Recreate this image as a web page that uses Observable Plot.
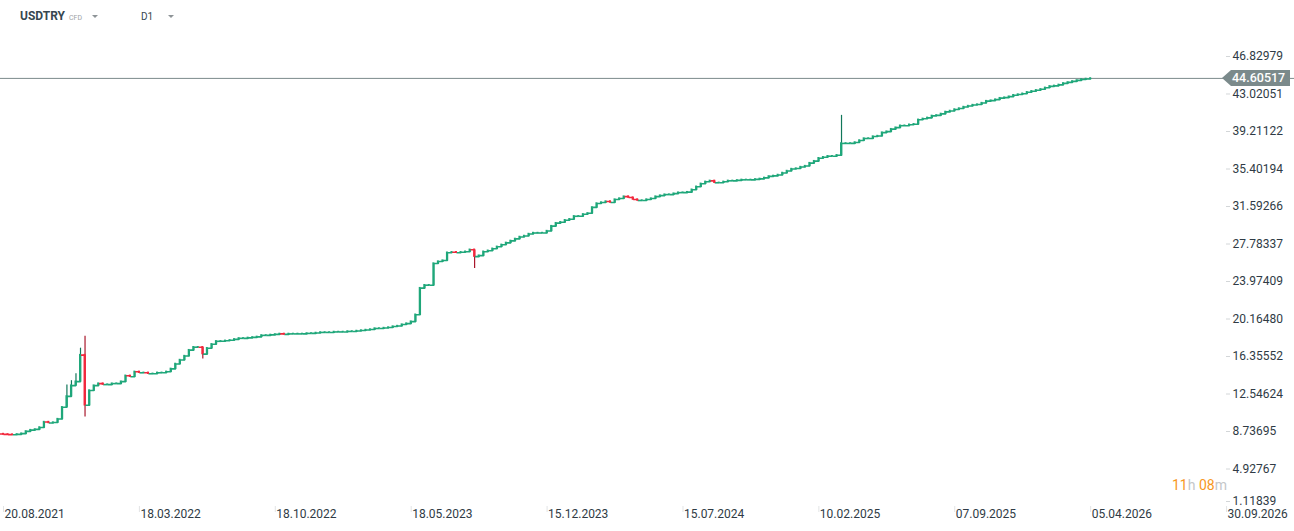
<!DOCTYPE html>
<html>
<head>
<meta charset="utf-8">
<script src="https://cdn.jsdelivr.net/npm/d3@7"></script>
<script src="https://cdn.jsdelivr.net/npm/@observablehq/plot@0.6"></script>
<style>
  html, body { margin: 0; padding: 0; background: #ffffff; overflow: hidden; }
  #wrap { position: relative; width: 1294px; height: 531px; font-family: Roboto, "Noto Sans", sans-serif; }
  #wrap svg.plot { position: absolute; left: 0; top: 0; }
  .hdr { position: absolute; color: #37474f; white-space: nowrap; }
  #sym { left: 20px; top: 9px; font-size: 12px; font-weight: 700; }
  #cfd { left: 69px; top: 14px; font-size: 7px; color: #9ea3a6; }
  #tf { left: 141px; top: 11px; font-size: 10px; }
  .caret { position: absolute; width: 0; height: 0; border-left: 3.5px solid transparent; border-right: 3.5px solid transparent; border-top: 3.5px solid #8e9497; }
  #c1 { left: 92px; top: 15px; }
  #c2 { left: 168px; top: 15px; }
  #timer { position: absolute; left: 1172px; top: 477px; font-size: 14px; white-space: nowrap; }
  #timer .o { color: #f7981d; }
  #timer .g { color: #c4c7c9; }
</style>
</head>
<body>
<div id="wrap">
  <div class="hdr" id="sym">USDTRY</div>
  <div class="hdr" id="cfd">CFD</div>
  <div class="caret" id="c1"></div>
  <div class="hdr" id="tf">D1</div>
  <div class="caret" id="c2"></div>
  <div id="timer"><span class="o">11</span><span class="g">h</span> <span class="o">08</span><span class="g">m</span></div>
</div>
<script>
// ---- data (weekly closes, one per 5 daily bars) ----
const weeklyClose = [
  8.44, 8.42, 8.40, 8.45, 8.52, 8.75, 8.88, 8.95, 9.15, 9.70,
  9.60, 9.65, 10.0, 11.2, 12.3, 13.4, 13.8, 16.5, 11.4, 12.9,
  13.4, 13.6, 13.5, 13.5, 13.6, 13.6, 13.8, 14.4, 14.3, 14.8,
  14.7, 14.7, 14.6, 14.6, 14.7, 14.7, 14.8, 15.1, 15.6, 16.0,
  16.4, 17.0, 17.3, 17.3, 16.6, 17.2, 17.6, 17.9, 17.9, 17.95,
  18.0, 18.1, 18.2, 18.2, 18.25, 18.3, 18.35, 18.5, 18.5, 18.55,
  18.6, 18.65, 18.6, 18.65, 18.65, 18.65, 18.65, 18.7, 18.7, 18.75,
  18.8, 18.8, 18.8, 18.85, 18.85, 18.85, 18.9, 18.9, 18.95, 19.0,
  19.05, 19.1, 19.2, 19.2, 19.25, 19.3, 19.4, 19.45, 19.6, 19.7,
  19.9, 20.6, 23.3, 23.6, 23.6, 25.8, 26.0, 26.1, 26.9, 26.95,
  26.9, 26.95, 27.0, 27.2, 26.5, 26.6, 27.0, 27.1, 27.3, 27.5,
  27.7, 27.9, 28.1, 28.3, 28.5, 28.6, 28.8, 28.9, 28.9, 28.9,
  29.1, 29.6, 29.9, 30.0, 30.2, 30.3, 30.6, 30.6, 30.8, 30.9,
  31.5, 31.9, 32.0, 32.1, 32.0, 32.3, 32.4, 32.6, 32.5, 32.3,
  32.2, 32.2, 32.3, 32.4, 32.6, 32.7, 32.8, 32.8, 32.9, 33.0,
  33.0, 33.05, 33.3, 33.6, 33.9, 34.1, 34.2, 34.0, 34.0, 34.1,
  34.2, 34.2, 34.25, 34.3, 34.3, 34.3, 34.35, 34.4, 34.5, 34.65,
  34.7, 34.8, 35.0, 35.2, 35.4, 35.45, 35.6, 35.7, 36.0, 36.2,
  36.5, 36.6, 36.7, 36.7, 36.8, 38.0, 38.0, 38.0, 38.1, 38.3,
  38.5, 38.5, 38.7, 38.75, 39.1, 39.2, 39.45, 39.6, 39.8, 39.8,
  39.9, 39.95, 40.4, 40.5, 40.6, 40.8, 40.85, 41.0, 41.2, 41.3,
  41.45, 41.55, 41.7, 41.8, 41.9, 41.95, 42.1, 42.3, 42.35, 42.45,
  42.6, 42.65, 42.75, 42.9, 42.97, 43.05, 43.2, 43.3, 43.4, 43.5,
  43.65, 43.8, 43.85, 43.95, 44.1, 44.2, 44.3, 44.4, 44.5, 44.55,
  44.60517
];
const firstOpen = 8.48;

// weeks with visible wicks beyond the body
const spikeWeek = [14, 15, 16, 17, 18, 44, 104, 185];
const spikeHigh = [13.45, 13.9, 14.6, 17.2, 18.4, 17.3, 27.2, 40.85];
const spikeLow  = [11.5, 12.6, 13.6, 13.8, 10.2, 16.1, 25.3, 36.7];

const lastPrice = 44.60517;
const lastPriceLabel = "44.60517";

const yTickValues = [46.82979, 43.02051, 39.21122, 35.40194, 31.59266, 27.78337, 23.97409, 20.16480, 16.35552, 12.54624, 8.73695, 4.92767, 1.11839];
const yTickLabels = ["46.82979", "43.02051", "39.21122", "35.40194", "31.59266", "27.78337", "23.97409", "20.16480", "16.35552", "12.54624", "8.73695", "4.92767", "1.11839"];

const xTickLabels = ["20.08.2021", "18.03.2022", "18.10.2022", "18.05.2023", "15.12.2023", "15.07.2024", "10.02.2025", "07.09.2025", "05.04.2026", "30.09.2026"];
const barsPerWeek = 5;
const barsPerLabel = 150;

// ---- build candle table ----
const candles = weeklyClose.map((c, w) => {
  const open = w === 0 ? firstOpen : weeklyClose[w - 1];
  const k = spikeWeek.indexOf(w);
  const high = Math.max(open, c, k >= 0 ? spikeHigh[k] : -Infinity);
  const low = Math.min(open, c, k >= 0 ? spikeLow[k] : Infinity);
  return {bar: w * barsPerWeek, prevBar: (w - 1) * barsPerWeek, open, close: c, high, low, up: c >= open, wick: k >= 0};
});
const xTickBars = xTickLabels.map((_, i) => i * barsPerLabel);
const xLabelMap = new Map(xTickBars.map((b, i) => [b, xTickLabels[i]]));
const yLabelMap = new Map(yTickValues.map((v, i) => [v, yTickLabels[i]]));

const GREEN = "#1fa77a", GREEN_D = "#11775a", RED = "#f2283d", RED_D = "#a9172c";
const AXIS_TXT = "#2f3b45";

const chart = Plot.plot({
  width: 1294,
  height: 531,
  marginTop: 56,
  marginBottom: 25,
  marginLeft: 0,
  marginRight: 0,
  style: {fontFamily: "Roboto, 'Noto Sans', sans-serif", fontSize: "12px", background: "transparent", overflow: "visible"},
  x: {type: "linear", domain: [-3.31, 1425.0], axis: null},
  y: {type: "linear", domain: [yTickValues[yTickValues.length - 1], yTickValues[0]], axis: null},
  color: {type: "identity"},
  marks: [
    Plot.ruleY([lastPrice], {stroke: "#7b8a8b", strokeWidth: 1}),
    // wicks
    Plot.ruleX(candles.filter(d => d.wick), {x: "bar", y1: "low", y2: "high", stroke: d => d.up ? GREEN_D : RED_D, strokeWidth: 1.2}),
    // staircase connecting each candle to the next
    Plot.link(candles, {
      x1: "prevBar", y1: "open", x2: "bar", y2: "close",
      curve: "step-after",
      stroke: d => d.up ? GREEN : RED, strokeWidth: 1.6
    }),
    // candle bodies
    Plot.rect(candles, {
      x1: d => d.bar - 1.1,
      x2: d => d.bar + 1.1,
      y1: "open", y2: "close",
      fill: d => d.up ? GREEN : RED,
      insetTop: -0.7, insetBottom: -0.7
    }),
    Plot.axisY(yTickValues.slice(0, -1), {
      anchor: "right", dx: -69, tickSize: 4, tickPadding: 3,
      tickFormat: d => yLabelMap.get(d), stroke: "#d3d6d8", fill: AXIS_TXT, fontSize: 12, label: null
    }),
    Plot.axisY(yTickValues.slice(-1), {
      anchor: "right", dx: -69, dy: -5, tickSize: 4, tickPadding: 3,
      tickFormat: d => yLabelMap.get(d), stroke: "#d3d6d8", fill: AXIS_TXT, fontSize: 12, label: null
    }),
    Plot.axisX(xTickBars, {
      anchor: "bottom", tickSize: 6, tickFormat: () => "", stroke: "#e2e4e5", label: null
    }),
    Plot.axisX(xTickBars, {
      anchor: "bottom", tickSize: 0, tickPadding: 3, textAnchor: "start", dx: 1,
      tickFormat: d => xLabelMap.get(d), fill: AXIS_TXT, fontSize: 12, label: null
    })
  ]
});

document.getElementById("wrap").prepend(chart);

// last-price tag on the right axis
const py = chart.scale("y").apply(lastPrice);
const svg = d3.select(chart);
const tagLeft = 1294 - 72, tagRight = 1290;
svg.append("path")
  .attr("d", `M${tagLeft},${py} L${tagLeft + 9},${py - 8} L${tagRight},${py - 8} L${tagRight},${py + 8} L${tagLeft + 9},${py + 8} Z`)
  .attr("fill", "#7b8a8b");
svg.append("text")
  .attr("x", tagLeft + 10).attr("y", py).attr("dy", "0.35em")
  .attr("text-anchor", "start")
  .attr("fill", "#ffffff").attr("font-size", 12.5).attr("font-weight", 500)
  .attr("font-family", "Roboto, sans-serif")
  .text(lastPriceLabel);
</script>
</body>
</html>
